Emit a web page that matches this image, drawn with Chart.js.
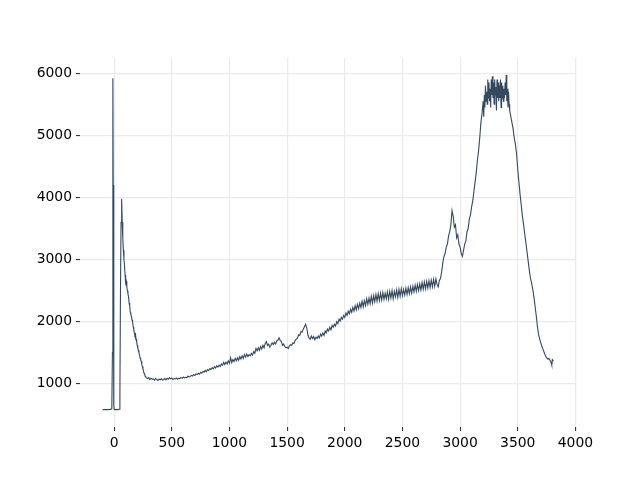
<!DOCTYPE html>
<html>
<head>
<meta charset="utf-8">
<script src="https://cdn.jsdelivr.net/npm/chart.js@4"></script>
<style>html,body{margin:0;padding:0;background:#fff;}canvas{display:block;}</style>
</head>
<body>
<canvas id="c" width="640" height="480"></canvas>
<script>
const wavenumbers = [-100,-60,-30,-20,-15,-12,-10,-8,-5,-2,0,10,30,45,50,55,60,65,70,75,80,85,90,95,100,105,110,115,120,125,130,135,140,145,150,155,160,165,170,175,180,185,190,195,200,205,210,215,220,225,230,235,240,245,250,255,260,265,270,275,280,290,300,310,320,330,340,350,360,370,380,390,400,410,420,430,440,450,460,470,480,490,500,510,520,530,540,550,560,570,580,590,
600,610,620,630,640,650,660,670,680,690,700,710,720,730,740,750,760,770,780,790,800,810,820,830,840,850,860,870,880,890,900,910,920,930,940,950,960,970,980,990,
1000,1010,1020,1030,1040,1050,1060,1070,1080,1090,1100,1110,1120,1130,1140,1150,1160,1170,1180,1190,1200,1210,1220,1230,1240,1250,1260,1270,1280,1290,1300,1310,1320,1330,1340,1350,1360,1370,1380,1390,1400,1410,1420,1430,1440,1450,1460,1470,1480,1490,
1500,1510,1520,1530,1540,1550,1560,1570,1580,1590,1600,1610,1620,1630,1640,1650,1660,1670,1680,1690,1700,1710,1720,1730,1740,1750,1760,1770,1780,1790,1800,1810,1820,1830,1840,1850,1860,1870,1880,1890,1900,1910,1920,1930,1940,1950,1960,1970,1980,1990,
2000,2010,2020,2030,2040,2050,2060,2070,2080,2090,2100,2110,2120,2130,2140,2150,2160,2170,2180,2190,2200,2210,2220,2230,2240,2250,2260,2270,2280,2290,2300,2310,2320,2330,2340,2350,2360,2370,2380,2390,2400,2410,2420,2430,2440,2450,2460,2470,2480,2490,
2500,2510,2520,2530,2540,2550,2560,2570,2580,2590,2600,2610,2620,2630,2640,2650,2660,2670,2680,2690,2700,2710,2720,2730,2740,2750,2760,2770,2780,2790,2800,2810,2820,2830,2840,2850,2860,2870,2880,2890,2900,2910,2920,2930,2940,2950,2960,2970,2980,2990,
3000,3010,3020,3030,3040,3050,3060,3070,3080,3090,3100,3110,3120,3130,3140,3150,3160,3170,3180,3190,
3200,3205,3210,3215,3220,3225,3230,3235,3240,3245,3250,3255,3260,3265,3270,3275,3280,3285,3290,3295,3300,3305,3310,3315,3320,3325,3330,3335,3340,3345,3350,3355,3360,3365,3370,3375,3380,3385,3390,3395,3400,3405,3410,3415,3420,3425,3430,
3440,3450,3460,3470,3480,3490,3500,3510,3520,3530,3540,3550,3560,3570,3580,3590,3600,3610,3620,3630,3640,3650,3660,3670,3680,3690,3700,3710,3720,3730,3740,3750,3760,3770,3780,3790,3795,3800,3810];
const intensity = [585,585,588,600,1500,4500,5920,4200,1500,650,590,585,585,590,800,2500,3600,3980,3600,3350,3150,3000,2900,2750,2620,2650,2560,2500,2450,2400,2300,2250,2150,2120,2080,2030,2000,1920,1880,1820,1780,1800,1720,1680,1620,1580,1540,1500,1460,1420,1390,1360,1310,1280,1240,1200,1170,1150,1120,1110,1095,1085,1100,1070,1090,1075,1080,1060,1085,1070,1055,1075,1065,1080,1060,1070,1085,1065,1090,1075,1100,1080,1095,1070,1085,1080,1095,1075,1090,1085,1100,1090,
1110,1095,1105,1100,1125,1110,1120,1135,1125,1150,1135,1160,1150,1170,1155,1185,1170,1200,1190,1215,1195,1230,1215,1245,1230,1260,1240,1275,1255,1290,1270,1300,1280,1320,1300,1345,1310,1350,1320,1370,
1330,1420,1340,1390,1360,1410,1370,1420,1380,1440,1400,1450,1410,1470,1430,1480,1440,1470,1450,1490,1460,1520,1490,1570,1530,1580,1540,1600,1560,1620,1580,1650,1680,1620,1640,1590,1620,1660,1630,1670,1640,1690,1700,1740,1700,1680,1620,1640,1600,1580,
1590,1570,1610,1630,1620,1660,1650,1700,1720,1740,1790,1780,1840,1830,1880,1920,1960,1900,1790,1740,1720,1770,1730,1760,1710,1750,1730,1770,1740,1800,1770,1820,1780,1850,1820,1880,1850,1910,1870,1940,1910,1960,1930,2000,1970,2040,2010,2070,2040,2100,
2070,2140,2100,2170,2130,2200,2150,2230,2170,2260,2190,2280,2210,2300,2230,2330,2240,2340,2260,2370,2280,2380,2290,2410,2300,2420,2320,2440,2330,2450,2340,2460,2350,2470,2360,2460,2370,2480,2360,2490,2380,2500,2370,2490,2400,2510,2390,2520,2410,2530,
2420,2520,2430,2540,2440,2550,2450,2560,2460,2570,2480,2590,2490,2600,2500,2610,2510,2630,2520,2640,2530,2650,2540,2660,2550,2670,2560,2680,2570,2690,2600,2560,2660,2700,2800,2950,3050,3100,3200,3250,3380,3450,3560,3790,3700,3520,3560,3350,3400,3250,
3200,3100,3050,3150,3250,3300,3450,3500,3650,3720,3850,3950,4100,4250,4400,4600,4750,4950,5200,5350,
5550,5300,5650,5450,5800,5550,5700,5500,5900,5600,5850,5550,5750,5450,5900,5650,5950,5600,5850,5500,5900,5650,5780,5400,5900,5600,5850,5550,5800,5600,5900,5450,5850,5600,5800,5550,5750,5600,5850,5650,5970,5550,5750,5450,5700,5500,5400,
5300,5200,5100,4950,4850,4700,4450,4250,4050,3880,3700,3570,3420,3280,3130,2980,2830,2700,2620,2520,2400,2250,2100,1930,1800,1720,1660,1600,1550,1500,1450,1420,1400,1410,1380,1340,1300,1390,1370];
const xTicks = [0,500,1000,1500,2000,2500,3000,3500,4000];
const yTicks = [1000,2000,3000,4000,5000,6000];

const points = wavenumbers.map((x, i) => ({x: x, y: intensity[i]}));
const font = {family: 'DejaVu Sans', size: 13.9};

new Chart(document.getElementById('c'), {
  type: 'scatter',
  data: {datasets: [{
    data: points,
    showLine: true,
    borderColor: '#34495e',
    borderWidth: 1.1,
    pointRadius: 0,
    tension: 0
  }]},
  options: {
    responsive: false,
    animation: false,
    events: [],
    layout: {padding: {top: 58, right: 64, left: 0, bottom: 0}},
    plugins: {legend: {display: false}, tooltip: {enabled: false}},
    scales: {
      x: {
        type: 'linear', min: -296, max: 4005,
        afterBuildTicks: s => { s.ticks = xTicks.map(v => ({value: v})); },
        afterFit: s => { s.height = 53; },
        border: {display: false},
        grid: {color: '#ebebeb', lineWidth: 1.2, tickColor: '#222', tickLength: 4, tickWidth: 1},
        ticks: {color: '#000', font: font, padding: 4, maxRotation: 0, callback: v => String(v)}
      },
      y: {
        type: 'linear', min: 305, max: 6245,
        afterBuildTicks: s => { s.ticks = yTicks.map(v => ({value: v})); },
        afterFit: s => { s.width = 80; },
        border: {display: false},
        grid: {color: '#ebebeb', lineWidth: 1.2, tickColor: '#222', tickLength: 4, tickWidth: 1},
        ticks: {color: '#000', font: font, padding: 4, callback: v => String(v)}
      }
    }
  }
});
</script>
</body>
</html>
